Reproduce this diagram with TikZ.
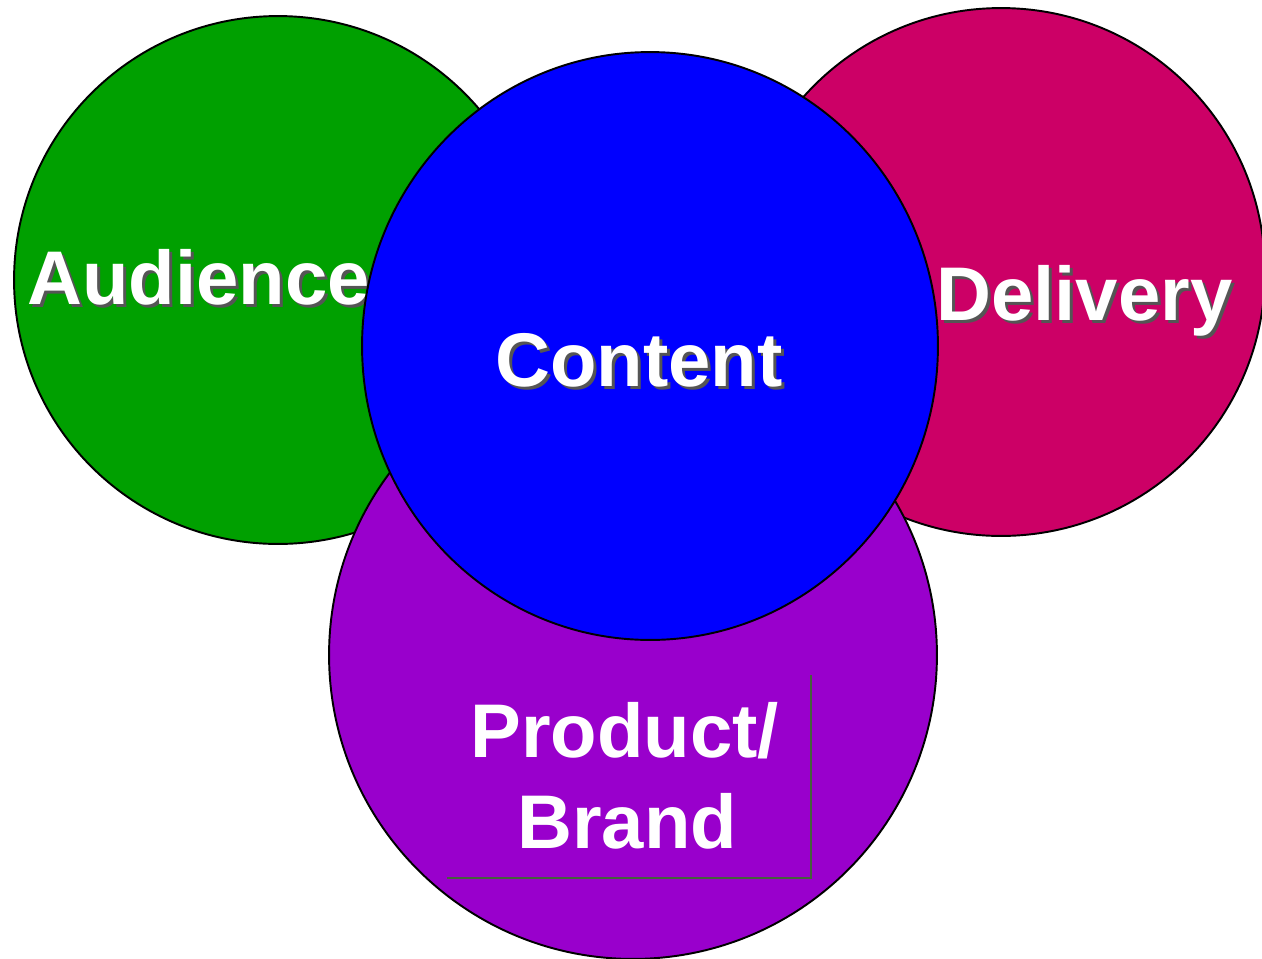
\documentclass[tikz,border=0pt]{standalone}
\usepackage{fontspec}
\setmainfont{Liberation Sans}
\definecolor{audgreen}{HTML}{00A000}
\definecolor{delmagenta}{HTML}{CC0066}
\definecolor{prodpurple}{HTML}{9900CC}
\definecolor{contblue}{HTML}{0000FF}
\definecolor{boxolive}{HTML}{45603C}
\definecolor{shadowgray}{HTML}{555555}
\newcommand\shadowtxt[1]{\rlap{\kern0.06cm\raisebox{-0.06cm}{\textcolor{shadowgray}{#1}}}#1}
\tikzset{
  ring/.style={draw=black,line width=1.1pt},
  bigword/.style={text=white,font=\fontsize{43.3}{52}\selectfont\bfseries,inner sep=0pt,anchor=base west}
}
\begin{document}
\begin{tikzpicture}[x=0.02cm,y=-0.02cm]
\useasboundingbox (0,0) rectangle (1262,958);
\foreach \cx/\cy/\col in {278/280/audgreen,1001/272/delmagenta} \filldraw[ring,fill=\col] (\cx,\cy) circle (5.28cm);
\node[bigword] (audience) at (27,304) {\shadowtxt{Audience}};
\node[bigword] (delivery) at (936,320) {\shadowtxt{Delivery}};
\filldraw[ring,fill=prodpurple] (633,655) circle (6.08cm);
\filldraw[ring,fill=contblue] (650,346) ellipse (5.76cm and 5.88cm);
\node[bigword] (content) at (495,386) {\shadowtxt{Content}};
\node[bigword] (product) at (470,757) {Product/};
\node[bigword] (brand) at (517,848) {Brand};
\draw[boxolive,line width=1pt] (447,878) -- (811,878) -- (811,675);
\end{tikzpicture}
\end{document}
